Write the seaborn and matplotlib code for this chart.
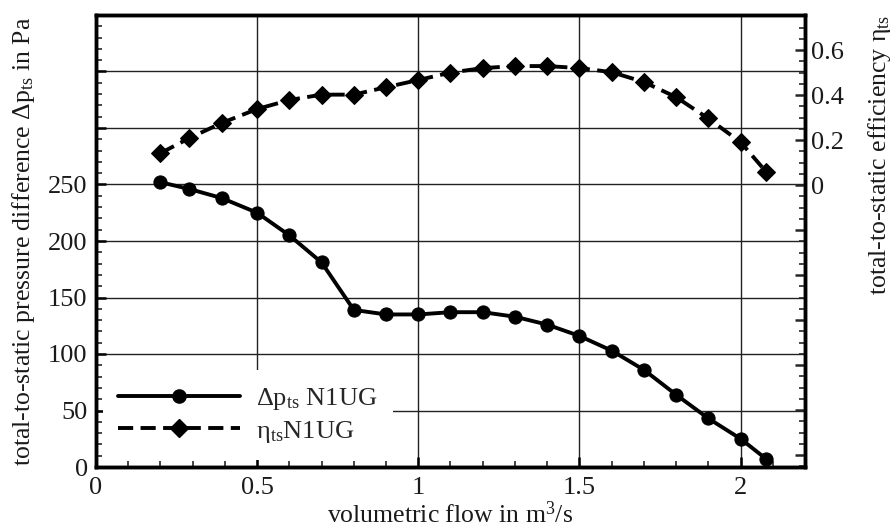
import numpy as np
import pandas as pd
import seaborn as sns
import matplotlib
matplotlib.use("Agg")
import matplotlib.pyplot as plt
from matplotlib.ticker import FixedLocator, MultipleLocator, FuncFormatter
from matplotlib.lines import Line2D

# ---- data ----
flow = [0.2, 0.29, 0.39, 0.5, 0.6, 0.7, 0.8, 0.9, 1.0, 1.1, 1.2, 1.3, 1.4, 1.5,
        1.6, 1.7, 1.8, 1.9, 2.0, 2.08]
dp_ts = [252, 246, 238, 225, 205, 181, 139, 135, 135, 137, 137, 133, 126, 116,
         103, 86, 64, 43, 25, 7]
eta_ts = [0.142, 0.209, 0.276, 0.338, 0.378, 0.402, 0.402, 0.435, 0.467, 0.50,
          0.52, 0.529, 0.529, 0.52, 0.502, 0.458, 0.391, 0.296, 0.191, 0.058]
left_ticklabels = ["0", "50", "100", "150", "200", "250"]
right_ticklabels = ["0", "0.2", "0.4", "0.6"]
x_ticklabels = ["0", "0.5", "1", "1.5", "2"]

df = pd.DataFrame({"flow": flow, "dp": dp_ts, "eta": eta_ts})

sns.set_style("white")
plt.rcParams["font.family"] = ["Liberation Serif", "DejaVu Serif"]
plt.rcParams["mathtext.fontset"] = "custom"
plt.rcParams["mathtext.rm"] = "Liberation Serif"
plt.rcParams["mathtext.it"] = "Liberation Serif:italic"
plt.rcParams["mathtext.default"] = "rm"

TXT = "#1a1a1a"
fig = plt.figure(figsize=(8.95, 5.32), dpi=100)
ax = fig.add_axes([96/895, 1-467/532, (805-96)/895, (467-15)/532])
ax2 = ax.twinx()

lw = 2.8
ms = 9.5
dash = [3.9, 1.9]
sns.lineplot(data=df, x="flow", y="dp", ax=ax, color="black", linewidth=lw,
             marker="o", markersize=ms, markeredgecolor="black", legend=False)
sns.lineplot(data=df, x="flow", y="eta", ax=ax2, color="black", linewidth=lw,
             marker="D", markersize=ms, markeredgecolor="black", legend=False)
ax2.lines[0].set_dashes(dash)

ax.set_xlim(0, 2.2)
ax.set_ylim(0, 400)
ax2.set_ylim(-1.253, 0.756)

# left axis ticks
ax.yaxis.set_major_locator(FixedLocator([0, 50, 100, 150, 200, 250, 300, 350]))
ax.yaxis.set_major_formatter(FuncFormatter(
    lambda v, p: left_ticklabels[int(round(v / 50))] if round(v) <= 250 else ""))
ax.yaxis.set_minor_locator(MultipleLocator(10))
ax.xaxis.set_major_locator(FixedLocator([0, 0.5, 1.0, 1.5, 2.0]))
ax.xaxis.set_major_formatter(FuncFormatter(
    lambda v, p: x_ticklabels[int(round(v / 0.5))] if round(v / 0.5) < len(x_ticklabels) else ""))
ax.xaxis.set_minor_locator(MultipleLocator(0.1))

# right axis ticks
rmaj = [-1.2, -1.0, -0.8, -0.6, -0.4, -0.2, 0.0, 0.2, 0.4, 0.6]
ax2.yaxis.set_major_locator(FixedLocator(rmaj))
def rfmt(v, p):
    i = int(round(v / 0.2))
    return right_ticklabels[i] if 0 <= i < len(right_ticklabels) else ""
ax2.yaxis.set_major_formatter(FuncFormatter(rfmt))
ax2.yaxis.set_minor_locator(MultipleLocator(0.05))

for a in (ax, ax2):
    for s in a.spines.values():
        s.set_linewidth(2.5)
        s.set_color("black")
ax.tick_params(axis="both", which="major", direction="in", length=7, width=1.8,
               labelsize=19, left=True, bottom=True, top=False, right=False,
               colors="black", labelcolor=TXT)
ax.tick_params(axis="y", which="major", pad=6)
ax.tick_params(axis="x", which="major", pad=7)
ax.tick_params(axis="both", which="minor", direction="in", length=4, width=1.2,
               left=True, bottom=True, top=False, right=False)
ax2.tick_params(axis="y", which="major", direction="in", length=7, width=1.8,
                labelsize=19, pad=4, right=True, left=False, labelcolor=TXT)
ax2.tick_params(axis="y", which="minor", direction="in", length=4, width=1.2,
                right=True, left=False)

ax.grid(True, which="major", color="#222222", linewidth=1.0)
ax2.grid(False)

ax.set_xlabel("volumetric flow in m$^3$/s", fontsize=18.5, labelpad=2, color=TXT)
ax.set_ylabel(r"total-to-static pressure difference $\Delta$p$_\mathrm{ts}$ in Pa",
              fontsize=18.5, color=TXT)
ax2.set_ylabel(r"total-to-static efficiency $\eta_\mathrm{ts}$", fontsize=18.5,
               color=TXT)
ax.yaxis.set_label_coords(-0.083, 0.5)
ax2.yaxis.set_label_coords(1.086, 0.69)

handles = [
    Line2D([], [], color="black", linewidth=lw, marker="o", markersize=ms),
    Line2D([], [], color="black", linewidth=lw, marker="D", markersize=ms,
           dashes=dash),
]
leg = ax2.legend(handles, [r"$\Delta$p$_\mathrm{ts}$ N1UG", r"$\eta_\mathrm{ts}$N1UG"],
                 loc="lower left", bbox_to_anchor=(0.0, 0.0), frameon=True,
                 fontsize=19, handlelength=4.6, handletextpad=0.6,
                 labelspacing=0.25, borderpad=0.6, borderaxespad=0.25)
leg.get_frame().set_facecolor("white")
leg.get_frame().set_edgecolor("none")
leg.get_frame().set_alpha(1.0)
leg.get_frame().set_boxstyle("square", pad=0)

fig.savefig("out.png", dpi=100)
